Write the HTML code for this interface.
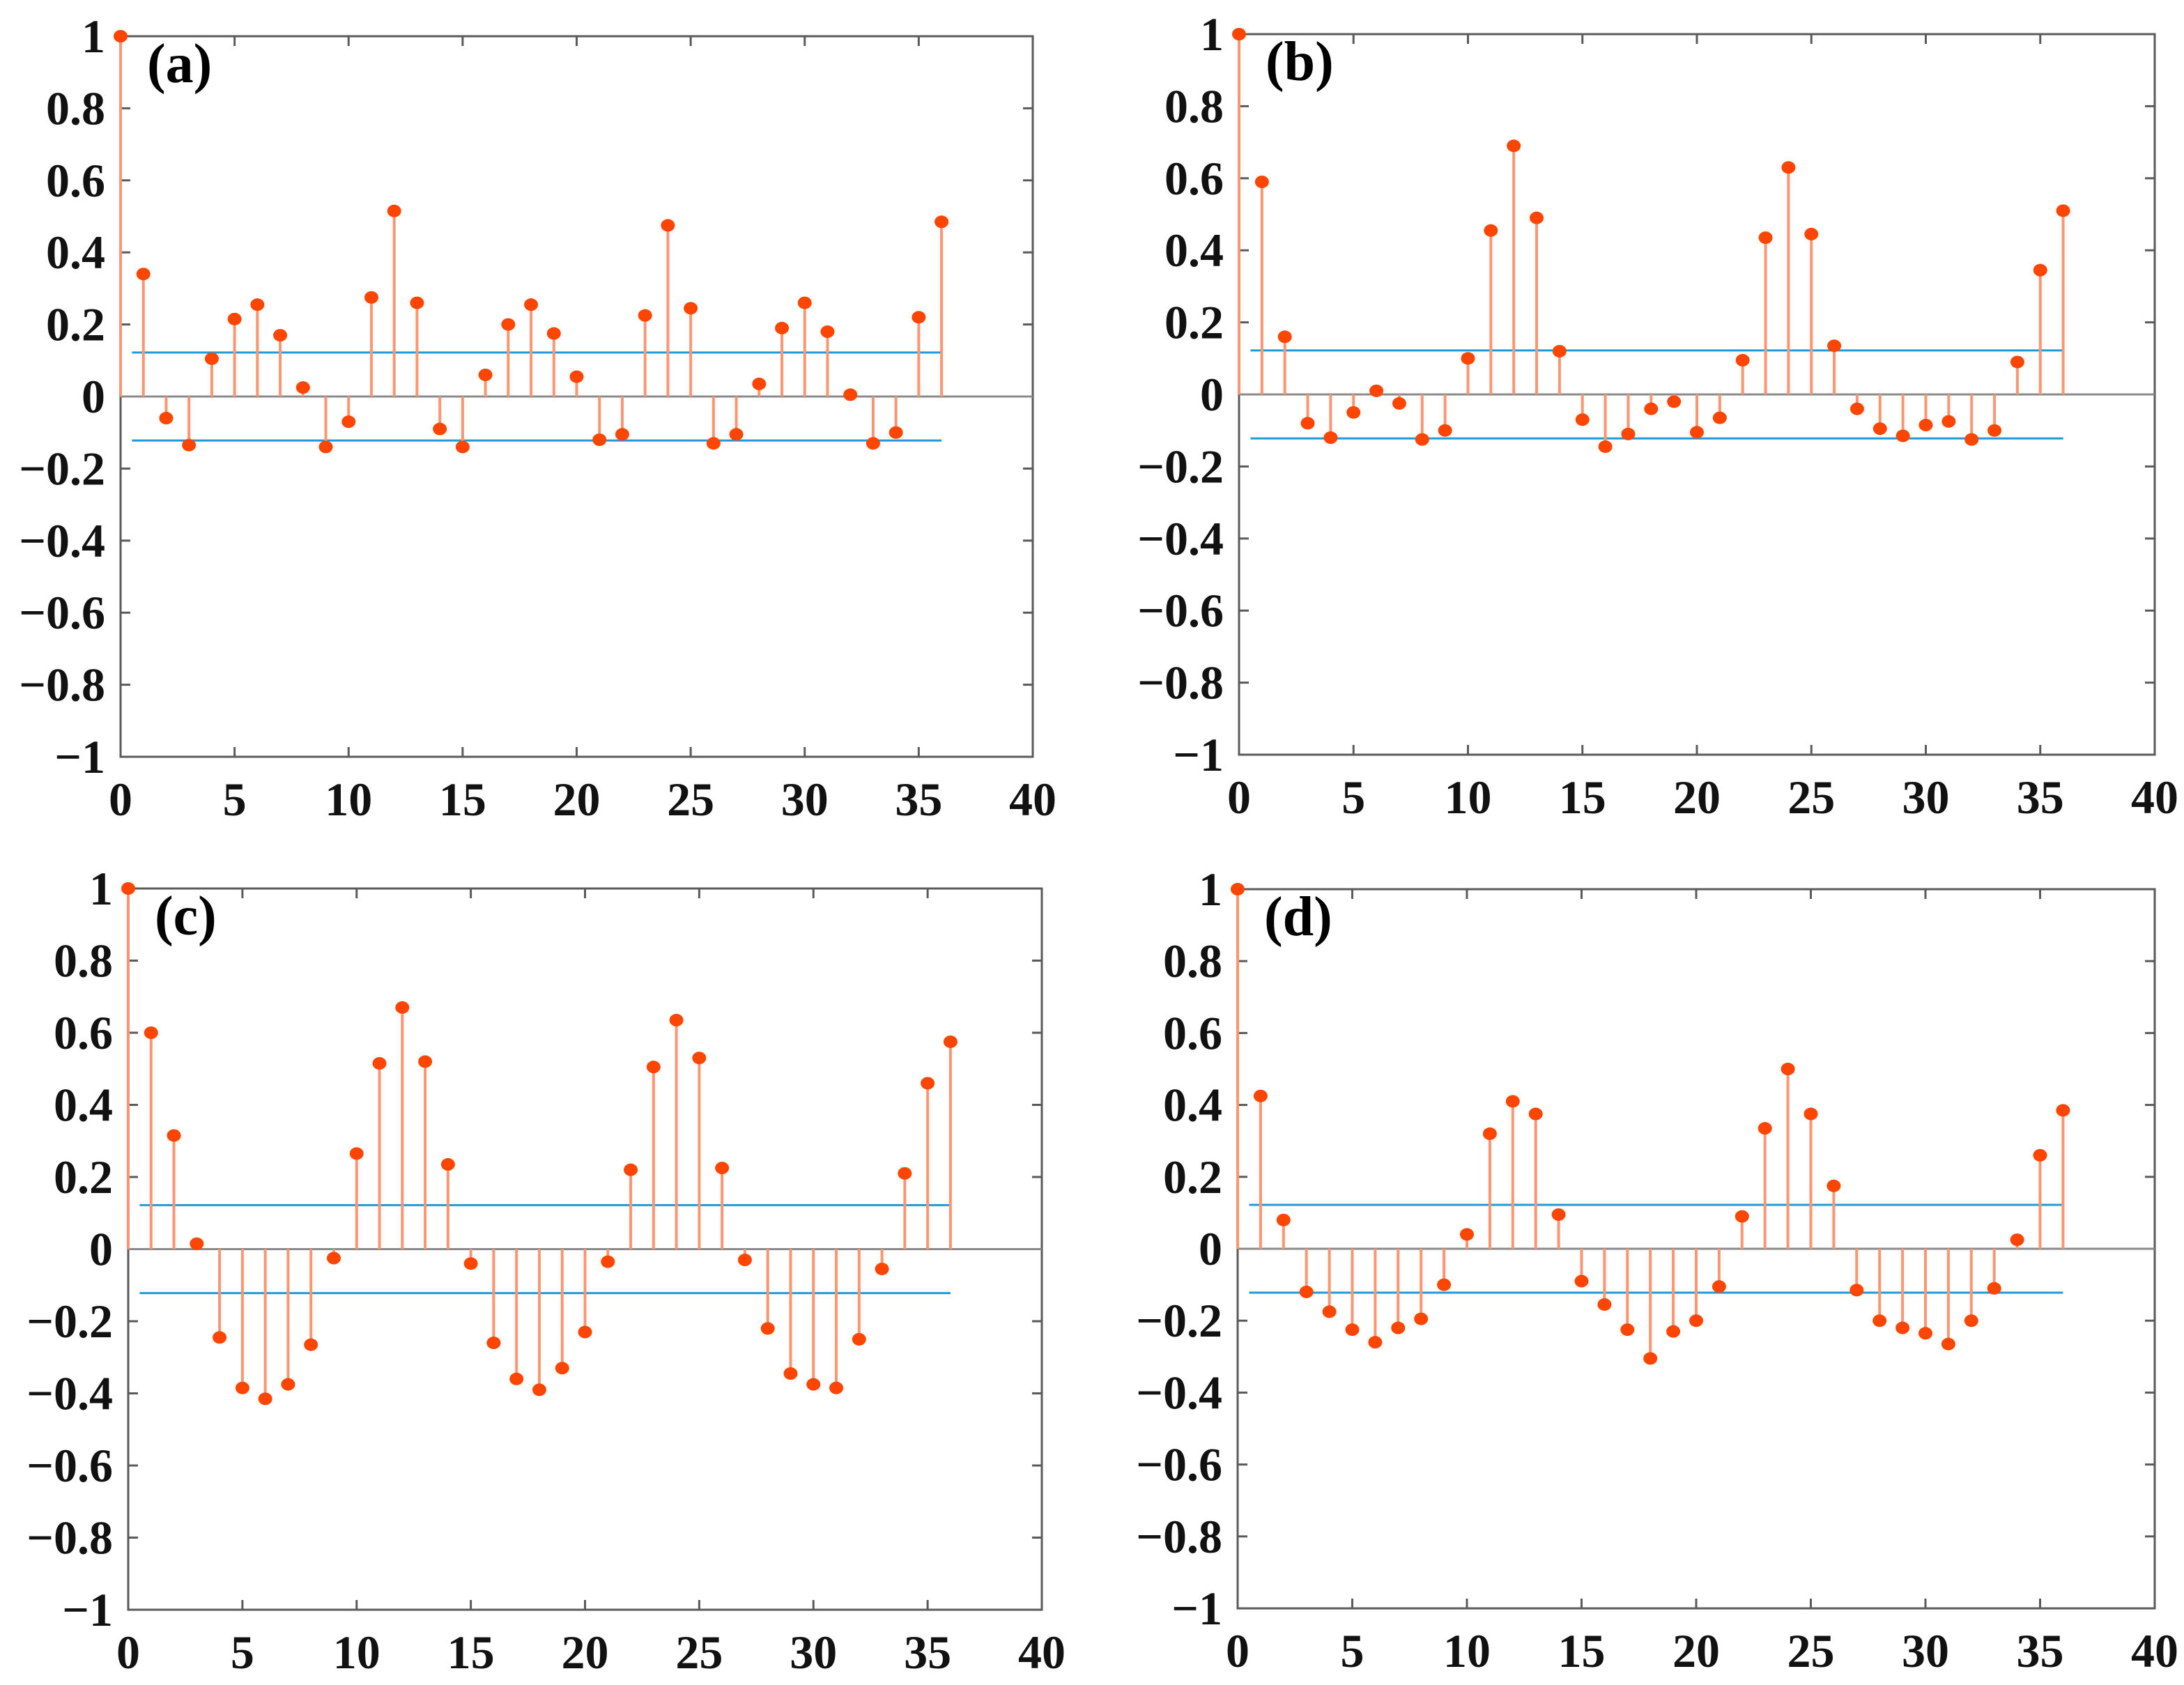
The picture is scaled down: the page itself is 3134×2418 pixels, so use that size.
<!DOCTYPE html>
<html><head><meta charset="utf-8"><style>
html,body{margin:0;padding:0;background:#fff;}
svg{display:block;font-family:"Liberation Serif",serif;font-weight:bold;}
</style></head><body>
<svg id="fig" width="3134" height="2418" viewBox="0 0 3134 2418" xmlns="http://www.w3.org/2000/svg"></svg>
<script>
const lags = Array.from({length:37},(_,i)=>i);
const seriesA = [1,0.34,-0.06,-0.135,0.105,0.215,0.255,0.17,0.025,-0.14,-0.07,0.275,0.515,0.26,-0.09,-0.14,0.06,0.2,0.255,0.175,0.055,-0.12,-0.105,0.225,0.475,0.245,-0.13,-0.105,0.035,0.19,0.26,0.18,0.005,-0.13,-0.1,0.22,0.485];
const seriesB = [1,0.59,0.16,-0.08,-0.12,-0.05,0.01,-0.025,-0.125,-0.1,0.1,0.455,0.69,0.49,0.12,-0.07,-0.145,-0.11,-0.04,-0.02,-0.105,-0.065,0.095,0.435,0.63,0.445,0.135,-0.04,-0.095,-0.115,-0.085,-0.075,-0.125,-0.1,0.09,0.345,0.51];
const seriesC = [1,0.6,0.315,0.015,-0.245,-0.385,-0.415,-0.375,-0.265,-0.025,0.265,0.515,0.67,0.52,0.235,-0.04,-0.26,-0.36,-0.39,-0.33,-0.23,-0.035,0.22,0.505,0.635,0.53,0.225,-0.03,-0.22,-0.345,-0.375,-0.385,-0.25,-0.055,0.21,0.46,0.575];
const seriesD = [1,0.425,0.08,-0.12,-0.175,-0.225,-0.26,-0.22,-0.195,-0.1,0.04,0.32,0.41,0.375,0.095,-0.09,-0.155,-0.225,-0.305,-0.23,-0.2,-0.105,0.09,0.335,0.5,0.375,0.175,-0.115,-0.2,-0.22,-0.235,-0.265,-0.2,-0.11,0.025,0.26,0.385];
const confBound = [0.122, -0.122];
const confRange = [0.5, 36];
const xTicks = [0,5,10,15,20,25,30,35,40];
const yTicks = [1,0.8,0.6,0.4,0.2,0,-0.2,-0.4,-0.6,-0.8,-1];
const yTickLabels = ["1","0.8","0.6","0.4","0.2","0","\u22120.2","\u22120.4","\u22120.6","\u22120.8","\u22121"];
const panelLabels = ["(a)","(b)","(c)","(d)"];
const allSeries = [seriesA, seriesB, seriesC, seriesD];

const svg = document.getElementById('fig');
const NS = 'http://www.w3.org/2000/svg';
function mk(tag, attrs, parent){const e=document.createElementNS(NS,tag);for(const k in attrs)e.setAttribute(k,attrs[k]);parent.appendChild(e);return e;}

const boxes = [
  {l:173,r:1482,t:52,b:1086},
  {l:1778,r:3092,t:49,b:1083},
  {l:184,r:1495,t:1275,b:2310},
  {l:1776,r:3092,t:1276,b:2308}
];

boxes.forEach((bx,p)=>{
  const g = mk('g',{},svg);
  
  
  const sx = v => bx.l + (v-0)/(40-0)*(bx.r-bx.l);
  const sy = v => bx.t + (1-v)/2*(bx.b-bx.t);
  const frame = mk('rect',{x:bx.l,y:bx.t,width:bx.r-bx.l,height:bx.b-bx.t,fill:'none',stroke:'#5a5a5a','stroke-width':3},g);
  
  
  xTicks.forEach(v=>{
    const x=sx(v);
    mk('line',{x1:x,x2:x,y1:bx.b,y2:bx.b-14,stroke:'#5a5a5a','stroke-width':3},g);
    mk('line',{x1:x,x2:x,y1:bx.t,y2:bx.t+14,stroke:'#5a5a5a','stroke-width':3},g);
    const t=mk('text',{x:x,y:bx.b+84,'text-anchor':'middle','font-size':68,fill:'#111'},g);
    t.textContent=v;
    
    
  });
  yTicks.forEach((v,i)=>{
    const y=sy(v);
    mk('line',{x1:bx.l,x2:bx.l+14,y1:y,y2:y,stroke:'#5a5a5a','stroke-width':3},g);
    mk('line',{x1:bx.r,x2:bx.r-14,y1:y,y2:y,stroke:'#5a5a5a','stroke-width':3},g);
    const t=mk('text',{x:bx.l-22,y:y+23,'text-anchor':'end','font-size':68,fill:'#111'},g);
    t.textContent=yTickLabels[i];
    
    
  });
  const zl = mk('line',{x1:bx.l,x2:bx.r,y1:sy(0),y2:sy(0),stroke:'#8a8a8a','stroke-width':3},g);
  
  
  confBound.forEach(c=>{
    const l=mk('line',{x1:sx(confRange[0]),x2:sx(confRange[1]),y1:sy(c),y2:sy(c),stroke:'#1f9ad6','stroke-width':3},g);
    
    
  });
  const data = allSeries[p];
  data.forEach((v,i)=>{
    const x=sx(lags[i]);
    const s=mk('line',{x1:x,x2:x,y1:sy(0),y2:sy(v),stroke:'#ff9470','stroke-width':4},g);
    
    
    const m=mk('ellipse',{cx:x,cy:sy(v),rx:10,ry:9,fill:'#ff4500'},g);
    
    
  });
  const pl=mk('text',{x:bx.l+38,y:bx.t+66,'font-size':80,fill:'#000'},g);
  pl.textContent=panelLabels[p];
  
  
});
</script>
</body></html>
